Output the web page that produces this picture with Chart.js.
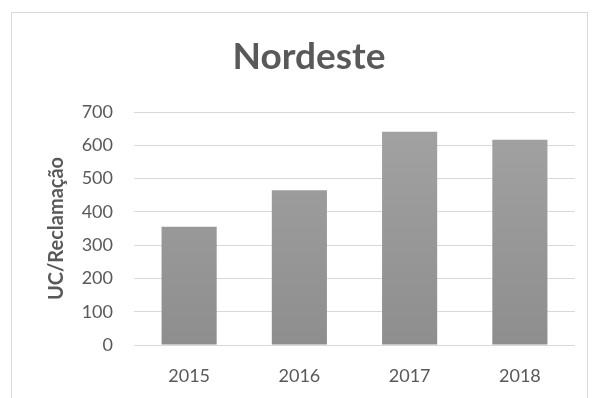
<!DOCTYPE html>
<html>
<head>
<meta charset="utf-8">
<script src="https://cdn.jsdelivr.net/npm/chart.js@4/dist/chart.umd.min.js"></script>
<style>
  html, body { margin: 0; padding: 0; background: #ffffff; }
  #wrap { position: relative; width: 593px; height: 398px; overflow: hidden; }
  #frame { position: absolute; left: 11px; top: 12px; width: 577px; height: 420px;
           border: 1px solid #d9d9d9; box-sizing: border-box; }
  #chart { position: absolute; left: 0; top: 0; }
</style>
</head>
<body>
<div id="wrap">
  <div id="frame"></div>
  <canvas id="chart" width="593" height="398"></canvas>
</div>
<script>
// Unidades consumidoras por reclamação — região Nordeste
const chartTitle = 'Nordeste';
const yAxisTitle = 'UC/Reclamação';
const years = ['2015', '2016', '2017', '2018'];
const ucPorReclamacao = [355, 465, 641, 617];
const yTicks = [0, 100, 200, 300, 400, 500, 600, 700];

const textGray = '#595959';
const gridGray = '#d9d9d9';

function barFill(context) {
  const area = context.chart.chartArea;
  if (!area) return '#999999';
  const g = context.chart.ctx.createLinearGradient(0, area.top, 0, area.bottom);
  g.addColorStop(0, '#a3a3a3');
  g.addColorStop(1, '#8e8e8e');
  return g;
}

new Chart(document.getElementById('chart'), {
  type: 'bar',
  data: {
    labels: years,
    datasets: [{
      label: yAxisTitle,
      data: ucPorReclamacao,
      backgroundColor: barFill,
      borderWidth: 0,
      barPercentage: 0.5,
      categoryPercentage: 1.0
    }]
  },
  options: {
    responsive: false,
    animation: false,
    layout: { padding: { left: 43, right: 18, top: 0, bottom: 0 } },
    plugins: {
      legend: { display: false },
      tooltip: { enabled: false },
      title: {
        display: true,
        text: chartTitle,
        color: textGray,
        font: { family: 'Lato', size: 37, weight: 'bold' },
        padding: { top: 35, bottom: 32.6 }
      }
    },
    scales: {
      x: {
        grid: { display: false, drawTicks: false },
        border: { display: false },
        ticks: {
          color: textGray,
          font: { family: 'Lato', size: 18 },
          padding: 20
        },
        afterFit(scale) { scale.height = 53; }
      },
      y: {
        min: 0,
        max: 700,
        afterBuildTicks(scale) { scale.ticks = yTicks.map(v => ({ value: v })); },
        grid: { color: gridGray, lineWidth: 1, drawTicks: false },
        border: { display: false },
        ticks: {
          color: textGray,
          font: { family: 'Lato', size: 18 },
          padding: 21
        },
        title: {
          display: true,
          text: yAxisTitle,
          color: textGray,
          font: { family: 'Lato', size: 20, weight: 'bold' },
          padding: { top: 2, bottom: 0 }
        },
        afterFit(scale) { scale.width = 91; }
      }
    }
  }
});
</script>
</body>
</html>
